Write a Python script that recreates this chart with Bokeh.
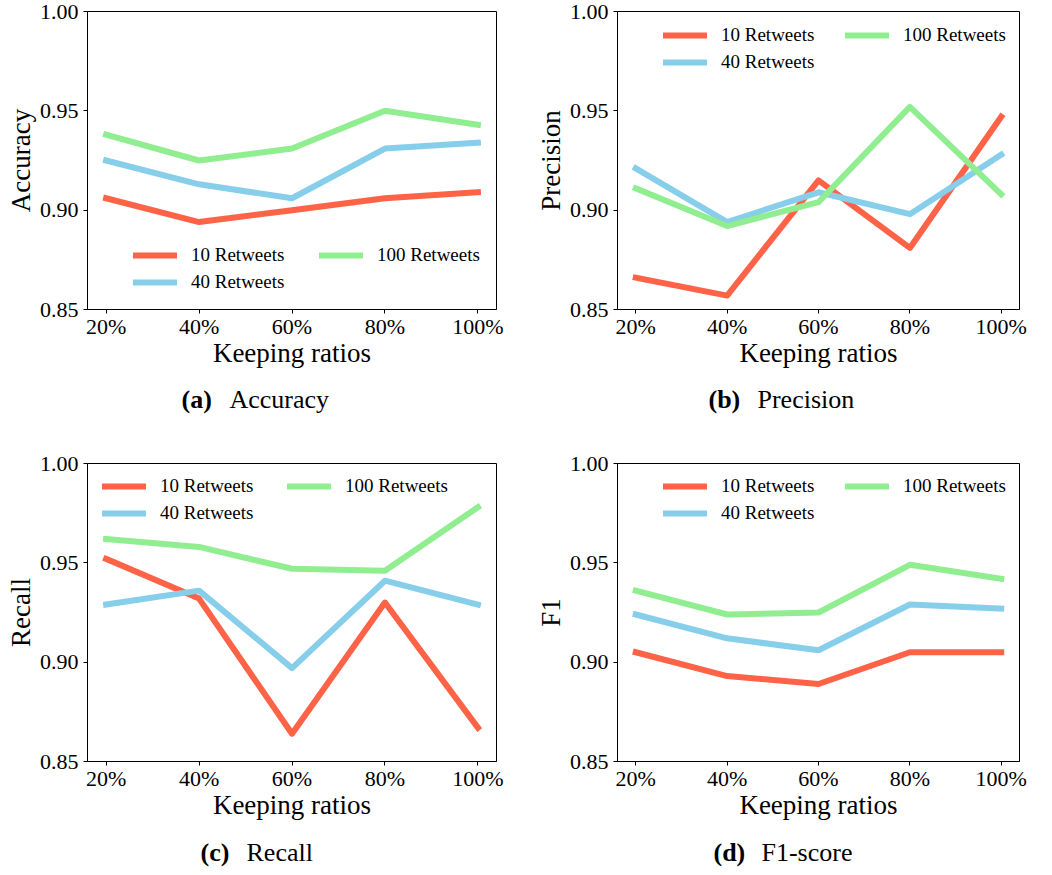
from bokeh.plotting import figure
from bokeh.layouts import column, row
from bokeh.models import Legend, LegendItem, Label, FixedTicker, Range1d, NumeralTickFormatter
from bokeh.embed import file_html
from bokeh.resources import INLINE

# ---------------- data ----------------
ratios = [20, 40, 60, 80, 100]
ratio_labels = ["20%", "40%", "60%", "80%", "100%"]
series_names = ["10 Retweets", "40 Retweets", "100 Retweets"]
series_colors = ["#FF6347", "#87CEEB", "#90EE90"]
y_ticks = [0.85, 0.90, 0.95, 1.00]
y_tick_labels = ["0.85", "0.90", "0.95", "1.00"]
x_label = "Keeping ratios"

acc_10 = [0.906, 0.894, 0.900, 0.906, 0.909]
acc_40 = [0.925, 0.913, 0.906, 0.931, 0.934]
acc_100 = [0.938, 0.925, 0.931, 0.950, 0.943]

prec_10 = [0.866, 0.857, 0.915, 0.881, 0.947]
prec_40 = [0.921, 0.894, 0.909, 0.898, 0.928]
prec_100 = [0.911, 0.892, 0.904, 0.952, 0.908]

rec_10 = [0.952, 0.932, 0.864, 0.930, 0.867]
rec_40 = [0.929, 0.936, 0.897, 0.941, 0.929]
rec_100 = [0.962, 0.958, 0.947, 0.946, 0.978]

f1_10 = [0.905, 0.893, 0.889, 0.905, 0.905]
f1_40 = [0.924, 0.912, 0.906, 0.929, 0.927]
f1_100 = [0.936, 0.924, 0.925, 0.949, 0.942]

FONT = "Liberation Serif"


def make_panel(ylabel, series, width, height, bl, br, bt, bb, leg_xy, leg_dx):
    p = figure(width=width, height=height,
               x_range=Range1d(16, 104), y_range=Range1d(0.85, 1.0),
               output_backend="svg", toolbar_location=None,
               min_border_left=bl, min_border_right=br,
               min_border_top=bt, min_border_bottom=bb)
    p.background_fill_color = "white"
    p.border_fill_color = "white"
    p.outline_line_color = "black"
    p.outline_line_width = 1
    p.outline_line_alpha = 1
    p.xgrid.grid_line_color = None
    p.ygrid.grid_line_color = None

    p.xaxis.ticker = FixedTicker(ticks=ratios)
    p.xaxis.major_label_overrides = dict(zip(ratios, ratio_labels))
    p.yaxis.ticker = FixedTicker(ticks=y_ticks)
    p.yaxis.formatter = NumeralTickFormatter(format="0.00")
    p.yaxis.major_label_overrides = dict(zip(y_ticks, y_tick_labels))

    for ax in (p.xaxis[0], p.yaxis[0]):
        ax.axis_line_color = "black"
        ax.axis_line_width = 1
        ax.major_tick_in = 0
        ax.major_tick_out = 4
        ax.major_tick_line_color = "black"
        ax.minor_tick_line_color = None
        ax.major_label_text_font = FONT
        ax.major_label_text_font_size = "22px"
        ax.major_label_text_color = "black"
        ax.axis_label_text_font = FONT
        ax.axis_label_text_font_size = "27px"
        ax.axis_label_text_font_style = "normal"
        ax.axis_label_text_color = "black"

    p.xaxis.axis_label = x_label
    p.xaxis.major_label_standoff = 0
    p.xaxis.axis_label_standoff = -4
    p.yaxis.axis_label = ylabel
    p.yaxis.major_label_standoff = 5
    p.yaxis.axis_label_standoff = 1

    renderers = []
    for vals, color in zip(series, series_colors):
        r = p.line(ratios, vals, line_color=color, line_width=6,
                   line_join="round", line_cap="square")
        renderers.append(r)

    leg_style = dict(padding=0, margin=0, spacing=5, glyph_width=44,
                     glyph_height=20, label_height=20, label_standoff=14,
                     label_text_font=FONT, label_text_font_size="19px",
                     label_text_color="black",
                     background_fill_alpha=0, border_line_alpha=0)
    lx, ly = leg_xy
    leg1 = Legend(items=[LegendItem(label=series_names[0], renderers=[renderers[0]]),
                         LegendItem(label=series_names[1], renderers=[renderers[1]])],
                  location=(lx, ly), **leg_style)
    leg2 = Legend(items=[LegendItem(label=series_names[2], renderers=[renderers[2]])],
                  location=(lx + leg_dx, ly + 27), **leg_style)
    p.add_layout(leg1)
    p.add_layout(leg2)
    return p


def make_caption(tag, caption, width, height, tag_x, cap_x, base_y):
    c = figure(width=width, height=height,
               x_range=Range1d(0, width), y_range=Range1d(0, height),
               output_backend="svg", toolbar_location=None,
               x_axis_location=None, y_axis_location=None, min_border=0)
    c.outline_line_color = None
    c.xgrid.grid_line_color = None
    c.ygrid.grid_line_color = None
    c.background_fill_color = "white"
    c.border_fill_color = "white"
    c.add_layout(Label(x=tag_x, y=base_y, x_units="screen", y_units="screen",
                       text=tag, text_font=FONT, text_font_size="26px",
                       text_font_style="bold", text_color="black",
                       text_baseline="alphabetic"))
    c.add_layout(Label(x=cap_x, y=base_y, x_units="screen", y_units="screen",
                       text=caption, text_font=FONT, text_font_size="26px",
                       text_color="black", text_baseline="alphabetic"))
    return c


pa = make_panel("Accuracy", [acc_10, acc_40, acc_100],
                526, 375, 87, 30, 11, 66, (46, 16), 186)
pb = make_panel("Precision", [prec_10, prec_40, prec_100],
                526, 375, 91, 33, 11, 66, (46, 236), 182)
pc = make_panel("Recall", [rec_10, rec_40, rec_100],
                526, 383, 87, 30, 23, 62, (15, 237), 185)
pd = make_panel("F1", [f1_10, f1_40, f1_100],
                526, 383, 91, 33, 23, 62, (46, 237), 182)

# caption frames are aligned with the plot frames above them
ca = make_caption("(a)", "Accuracy", 526, 65, 94, 142, 41)
cb = make_caption("(b)", "Precision", 526, 65, 91, 140, 41)
cc = make_caption("(c)", "Recall", 526, 52, 113, 159, 23)
cd = make_caption("(d)", "F1-score", 526, 52, 96, 144, 23)

layout = column(row(column(pa, ca), column(pb, cb)),
                row(column(pc, cc), column(pd, cd)))

open("out.html", "w").write(file_html(layout, INLINE))
